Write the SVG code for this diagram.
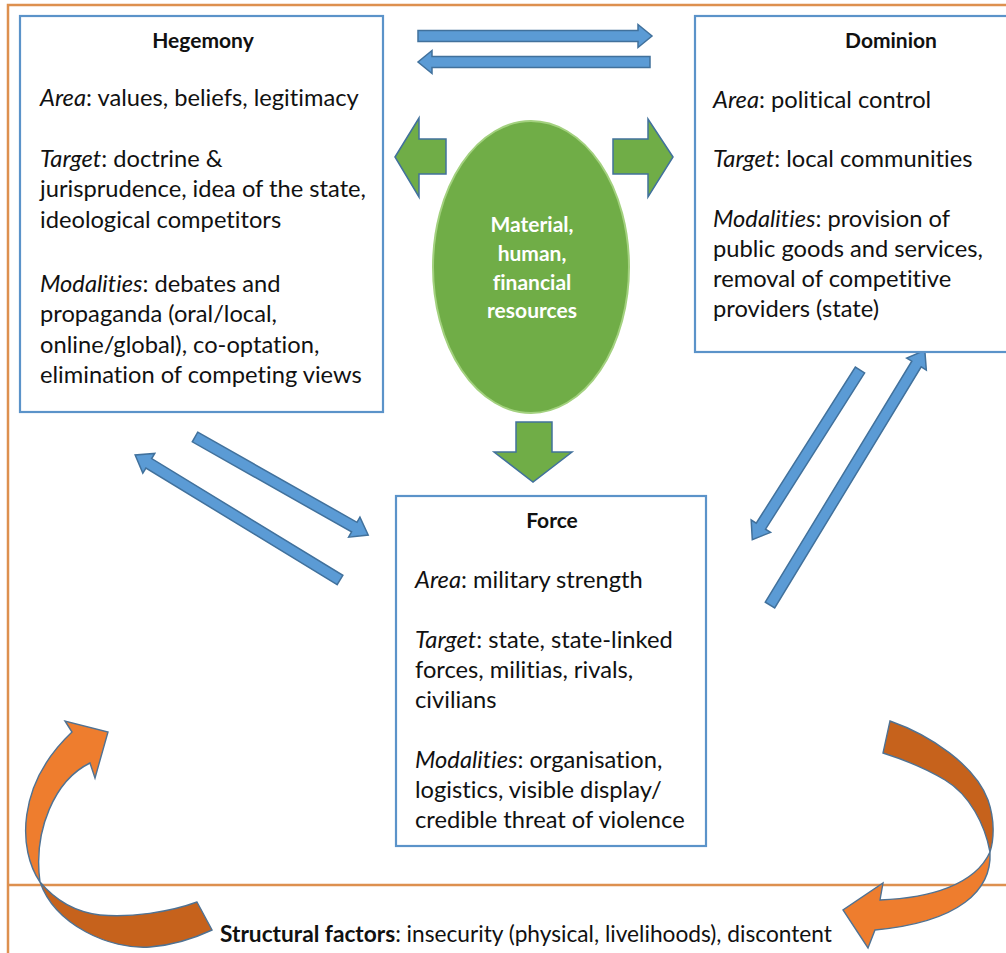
<svg xmlns="http://www.w3.org/2000/svg" width="1006" height="953" viewBox="0 0 1006 953">
  <style>
    text { font-variant-ligatures: none; }
    .frame { fill: none; stroke: #dd904f; stroke-width: 2.5; }
    .box { fill: #ffffff; stroke: #5b93c9; stroke-width: 2.2; }
    .txt { font-family: Lato, "Liberation Sans", sans-serif; font-size: 23.7px; fill: #111111; }
    .foot { font-family: Lato, "Liberation Sans", sans-serif; font-size: 22.7px; fill: #111111; }
    .title { font-family: Lato, "Liberation Sans", sans-serif; font-size: 21px; font-weight: bold; fill: #111111; text-anchor: middle; }
    .res { font-family: Lato, "Liberation Sans", sans-serif; font-size: 21px; font-weight: bold; fill: #ffffff; text-anchor: middle; }
    .blue { fill: #5b9bd5; stroke: #41719c; stroke-width: 1.5; }
    .green { fill: #70ad47; stroke: #41719c; stroke-width: 1.5; }
    .orange-light { fill: #ee7d2e; stroke: #4f7293; stroke-width: 1.4; }
    .orange-dark { fill: #c6621c; stroke: #4f7293; stroke-width: 1.4; }
  </style>

  <rect width="1006" height="953" fill="#ffffff"/>

  <!-- outer frame and structural-factors band -->
  <g id="frame">
    <path class="frame" d="M1010,5 H8 V960"/>
    <path class="frame" d="M8,885 H1010"/>
  </g>

  <!-- two-way links between the three domains -->
  <g id="connectors">
    <!-- Hegemony <-> Dominion -->
    <path class="blue" transform="translate(418,36)" d="M0,-5.5 H220 V-11.5 L234,0 L220,11.5 V5.5 H0 Z"/>
    <path class="blue" transform="translate(650,62) rotate(180)" d="M0,-5.5 H218 V-11.5 L232,0 L218,11.5 V5.5 H0 Z"/>
    <!-- Hegemony <-> Force -->
    <path class="blue" transform="translate(195,437) rotate(29.5)" d="M0,-5.5 H183 V-11.5 L199,0 L183,11.5 V5.5 H0 Z"/>
    <path class="blue" transform="translate(340,580) rotate(-148.6)" d="M0,-5.5 H224 V-11.5 L240,0 L224,11.5 V5.5 H0 Z"/>
    <!-- Dominion <-> Force -->
    <path class="blue" transform="translate(860,370) rotate(122.4)" d="M0,-5.5 H185 V-11.5 L201,0 L185,11.5 V5.5 H0 Z"/>
    <path class="blue" transform="translate(770,605) rotate(-58.7)" d="M0,-5.5 H282 V-11.5 L298,0 L282,11.5 V5.5 H0 Z"/>

    <!-- resources flowing out to each domain -->
    <polygon class="green" points="395,157 419,118 419,139 446,139 446,174 419,174 419,197"/>
    <polygon class="green" points="673,157 648,119 648,139 613,139 613,174 648,174 648,197"/>
    <polygon class="green" points="516,422 552,422 552,452 572,452 533,482 494,452 516,452"/>

    <!-- structural factors feeding back (twisted ribbons) -->
    <path class="orange-dark" d="M40,882 C55,925 110,950 150,947 C175,945 195,938 212,930 L197,902 C170,912 130,918 100,915 C75,912 55,900 40,882 Z"/>
    <path class="orange-light" d="M40,882 C18,850 16,785 72,732 L65,721 L108,732 L95,778 L90,763 C55,780 33,830 40,882 Z"/>
    <path class="orange-dark" d="M890,721 C930,735 975,765 988,800 C995,820 994,840 990,852 C985,825 970,795 945,780 C925,768 905,760 883,753 Z"/>
    <path class="orange-light" d="M990,852 C992,890 960,922 875,930 L868,948 L843,910 L883,883 L880,900 C930,898 975,885 990,852 Z"/>
  </g>

  <g id="hegemony">
    <rect class="box" x="20" y="16" width="363" height="396"/>
    <text class="title" x="203" y="48">Hegemony</text>
    <text class="txt" x="40" y="106"><tspan font-style="italic">Area</tspan>: values, beliefs, legitimacy</text>
    <text class="txt" x="40" y="167"><tspan font-style="italic">Target</tspan>: doctrine &amp;</text>
    <text class="txt" x="40" y="197">jurisprudence, idea of the state,</text>
    <text class="txt" x="40" y="228">ideological competitors</text>
    <text class="txt" x="40" y="292"><tspan font-style="italic">Modalities</tspan>: debates and</text>
    <text class="txt" x="40" y="322">propaganda (oral/local,</text>
    <text class="txt" x="40" y="353">online/global), co-optation,</text>
    <text class="txt" x="40" y="383">elimination of competing views</text>
  </g>

  <g id="dominion">
    <rect class="box" x="695" y="16" width="400" height="336"/>
    <text class="title" x="891" y="48">Dominion</text>
    <text class="txt" x="713" y="108"><tspan font-style="italic">Area</tspan>: political control</text>
    <text class="txt" x="713" y="167"><tspan font-style="italic">Target</tspan>: local communities</text>
    <text class="txt" x="713" y="227"><tspan font-style="italic">Modalities</tspan>: provision of</text>
    <text class="txt" x="713" y="257">public goods and services,</text>
    <text class="txt" x="713" y="287">removal of competitive</text>
    <text class="txt" x="713" y="317">providers (state)</text>
  </g>

  <g id="resources">
    <ellipse cx="531" cy="267" rx="98" ry="146" fill="#70ad47" stroke="#a3d17f" stroke-width="2"/>
    <text class="res" x="532" y="232">Material,</text>
    <text class="res" x="532" y="261">human,</text>
    <text class="res" x="532" y="290">financial</text>
    <text class="res" x="532" y="318">resources</text>
  </g>

  <g id="force">
    <rect class="box" x="396" y="496" width="310" height="350"/>
    <text class="title" x="552" y="528">Force</text>
    <text class="txt" x="415" y="588"><tspan font-style="italic">Area</tspan>: military strength</text>
    <text class="txt" x="415" y="648"><tspan font-style="italic">Target</tspan>: state, state-linked</text>
    <text class="txt" x="415" y="678">forces, militias, rivals,</text>
    <text class="txt" x="415" y="708">civilians</text>
    <text class="txt" x="415" y="768"><tspan font-style="italic">Modalities</tspan>: organisation,</text>
    <text class="txt" x="415" y="798">logistics, visible display/</text>
    <text class="txt" x="415" y="828">credible threat of violence</text>
  </g>

  <g id="structural-factors">
    <text class="foot" x="220" y="942"><tspan font-weight="bold">Structural factors</tspan>: insecurity (physical, livelihoods), discontent</text>
  </g>
</svg>
